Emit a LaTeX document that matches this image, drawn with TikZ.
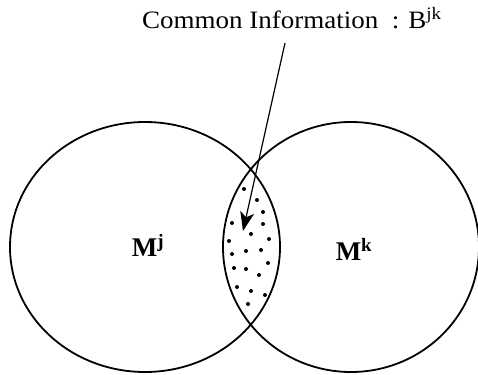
\documentclass[tikz,border=0pt]{standalone}
\usepackage{fontspec}
\setmainfont{Liberation Serif}
\usetikzlibrary{arrows.meta}
\begin{document}
\begin{tikzpicture}[x=1pt,y=-1pt,
  venn/.style={line width=1.8pt},
  lbl/.style={inner sep=0pt,font=\fontsize{25}{25}\selectfont},
  seed/.style={fill=black,circle,inner sep=0pt,minimum size=4pt}]
\useasboundingbox (0,0) rectangle (478,374);
\draw[venn] (145,247) ellipse [x radius=135, y radius=125];
\draw[venn] (351,247) ellipse [x radius=128, y radius=125];
\node[lbl,anchor=base west] (title) at (142,29) {\scalebox{1.08}[1]{Common Information\ \ : B\textsuperscript{jk}}};
\node[lbl,font=\fontsize{27}{27}\selectfont\bfseries] (mj) at (148,245) {M\textsuperscript{j}};
\node[lbl,font=\fontsize{27}{27}\selectfont\bfseries] (mk) at (354,249) {M\textsuperscript{k}};
\coordinate (from) at (285,43);
\coordinate (tip) at (243,231);
\draw[line width=1.2pt,-{Stealth[length=19pt,width=14pt,inset=5pt]}] (from) -- (tip);
\foreach \p in {(244,189),(257,200),(263,212),(232,223),(263,224),(251,234),(229,241),(269,239),(232,254),(246,251),(261,250),(268,263),(234,268),(246,269),(259,275),(237,287),(251,291),(265,295),(248,304)}
  \node[seed] at \p {};
\end{tikzpicture}
\end{document}
